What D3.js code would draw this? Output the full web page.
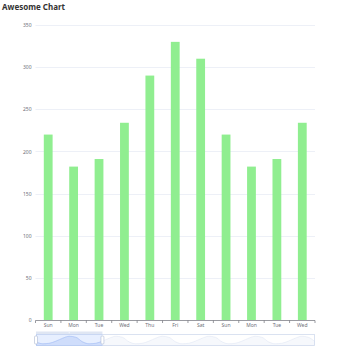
<!DOCTYPE html>
<html>
<head>
<meta charset="utf-8">
<script src="https://cdn.jsdelivr.net/npm/d3@7"></script>
<style>
html,body{margin:0;padding:0;background:#fff;}
svg{display:block;font-family:"Noto Sans","Open Sans",sans-serif;}
</style>
</head>
<body>
<svg id="c" width="350" height="350"></svg>
<script>
// Full dataset (the slider shows the whole series; main view shows first 11)
const allCategories = [
  "Sun","Mon","Tue","Wed","Thu","Fri","Sat",
  "Sun","Mon","Tue","Wed","Thu","Fri","Sat",
  "Sun","Mon","Tue","Wed","Thu","Fri","Sat",
  "Sun","Mon","Tue","Wed","Thu","Fri","Sat",
  "Sun","Mon","Tue","Wed","Thu","Fri","Sat",
  "Sun","Mon","Tue","Wed","Thu","Fri","Sat",
  "Sun"
];
const allValues = [
  220,182,191,234,290,330,310,
  220,182,191,234,290,330,310,
  220,182,191,234,290,330,310,
  220,182,191,234,290,330,310,
  220,182,191,234,290,330,310,
  220,182,191,234,290,330,310,
  220
];
const visibleStart = 0, visibleEnd = 10;   // zoom window (indices)
const yTicks = [0,50,100,150,200,250,300,350];
const title = "Awesome Chart";

const svg = d3.select("#c");
const L = 35.5, R = 315, T = 25, B = 320;

const cats = allCategories.slice(visibleStart, visibleEnd + 1);
const vals = allValues.slice(visibleStart, visibleEnd + 1);
const idx = d3.range(cats.length);

const x = d3.scaleBand().domain(idx).range([L, R]).paddingInner(0).paddingOuter(0);
const y = d3.scaleLinear().domain([0, 350]).range([B, T]);

// title
svg.append("text").attr("x", 2).attr("y", 9.5)
  .attr("font-size", 8).attr("font-weight", "bold").attr("fill", "#333")
  .text(title);

// grid
svg.append("g").selectAll("line").data(yTicks.filter(d => d > 0)).join("line")
  .attr("x1", L).attr("x2", R)
  .attr("y1", d => Math.round(y(d)) + 0.5).attr("y2", d => Math.round(y(d)) + 0.5)
  .attr("stroke", "#E0E6F1").attr("stroke-width", 0.6);

// y labels
const yAxis = d3.axisLeft(y).tickValues(yTicks).tickSize(0).tickPadding(4);
const gy = svg.append("g").attr("transform", `translate(${L},0)`).call(yAxis);
gy.select(".domain").remove();
gy.selectAll("text").attr("font-size", 5).attr("fill", "#6E7079").attr("font-family", "Noto Sans, sans-serif");

// bars
const bw = 8.8;
svg.append("g").selectAll("rect").data(idx).join("rect")
  .attr("x", i => x(i) + x.bandwidth() / 2 - bw / 2)
  .attr("width", bw)
  .attr("y", i => y(vals[i]))
  .attr("height", i => y(0) - y(vals[i]))
  .attr("fill", "#90EE90");

// x axis
const gx = svg.append("g").attr("transform", `translate(0,${B})`);
gx.append("line").attr("x1", L).attr("x2", R).attr("y1", 0.5).attr("y2", 0.5)
  .attr("stroke", "#6E7079").attr("stroke-width", 0.7);
const edges = idx.map(i => x(i)).concat([R]);
gx.selectAll("line.t").data(edges).join("line").attr("class", "t")
  .attr("x1", d => d).attr("x2", d => d).attr("y1", 0.5).attr("y2", 3)
  .attr("stroke", "#6E7079").attr("stroke-width", 0.7);
gx.selectAll("text").data(idx).join("text")
  .attr("x", i => x(i) + x.bandwidth() / 2).attr("y", 7.3)
  .attr("text-anchor", "middle").attr("font-size", 5).attr("fill", "#6E7079")
  .text(i => cats[i]);

// ----- data zoom slider -----
const sL = 36, sR = 315, sT = 334, sB = 346;
const sx = d3.scaleLinear().domain([0, allValues.length - 1]).range([sL, sR]);
const ext = d3.extent(allValues);
const off = (ext[1] - ext[0]) * 0.3;
const sy = d3.scaleLinear().domain([ext[0] - off, ext[1] + off]).range([sB, sT]);
const handleRight = sL + (sR - sL) * (visibleEnd / (allValues.length - 1));

const area = d3.area().x((d, i) => sx(i)).y0(sB).y1(d => sy(d)).curve(d3.curveMonotoneX);
const line = d3.line().x((d, i) => sx(i)).y(d => sy(d)).curve(d3.curveMonotoneX);

const sg = svg.append("g");
sg.append("rect").attr("x", sL + 0.5).attr("y", sT + 0.5).attr("width", sR - sL - 1).attr("height", sB - sT - 1)
  .attr("fill", "none").attr("stroke", "#D2DBEE").attr("stroke-width", 0.8);
sg.append("path").attr("d", area(allValues)).attr("fill", "#D2DBEE").attr("fill-opacity", 0.2);
sg.append("path").attr("d", line(allValues)).attr("fill", "none").attr("stroke", "#D2DBEE").attr("stroke-opacity", 0.5).attr("stroke-width", 0.7);

svg.append("clipPath").attr("id", "selclip").append("rect")
  .attr("x", sL).attr("y", sT).attr("width", handleRight - sL).attr("height", sB - sT);
const sel = sg.append("g").attr("clip-path", "url(#selclip)");
sel.append("path").attr("d", area(allValues)).attr("fill", "#8FB0F7").attr("fill-opacity", 0.2);
sel.append("path").attr("d", line(allValues)).attr("fill", "none").attr("stroke", "#8FB0F7").attr("stroke-opacity", 0.5).attr("stroke-width", 0.7);

// filler
sg.append("rect").attr("x", sL).attr("y", sT).attr("width", handleRight - sL).attr("height", sB - sT)
  .attr("fill", "rgb(135,175,255)").attr("fill-opacity", 0.2);
// move handle bar
sg.append("rect").attr("x", sL).attr("y", sT - 2.5).attr("width", handleRight - sL).attr("height", 2.5)
  .attr("fill", "#D2DBEE").attr("fill-opacity", 0.7);
sg.append("circle").attr("cx", (sL + handleRight) / 2).attr("cy", sT - 1.25).attr("r", 0.6).attr("fill", "#fff");
// handles
[sL, handleRight].forEach(hx => {
  sg.append("rect").attr("x", hx - 1.5).attr("y", sT + 2).attr("width", 3).attr("height", 8)
    .attr("rx", 1).attr("fill", "#fff").attr("stroke", "#ACB8D1").attr("stroke-width", 0.6);
});
</script>
</body>
</html>
